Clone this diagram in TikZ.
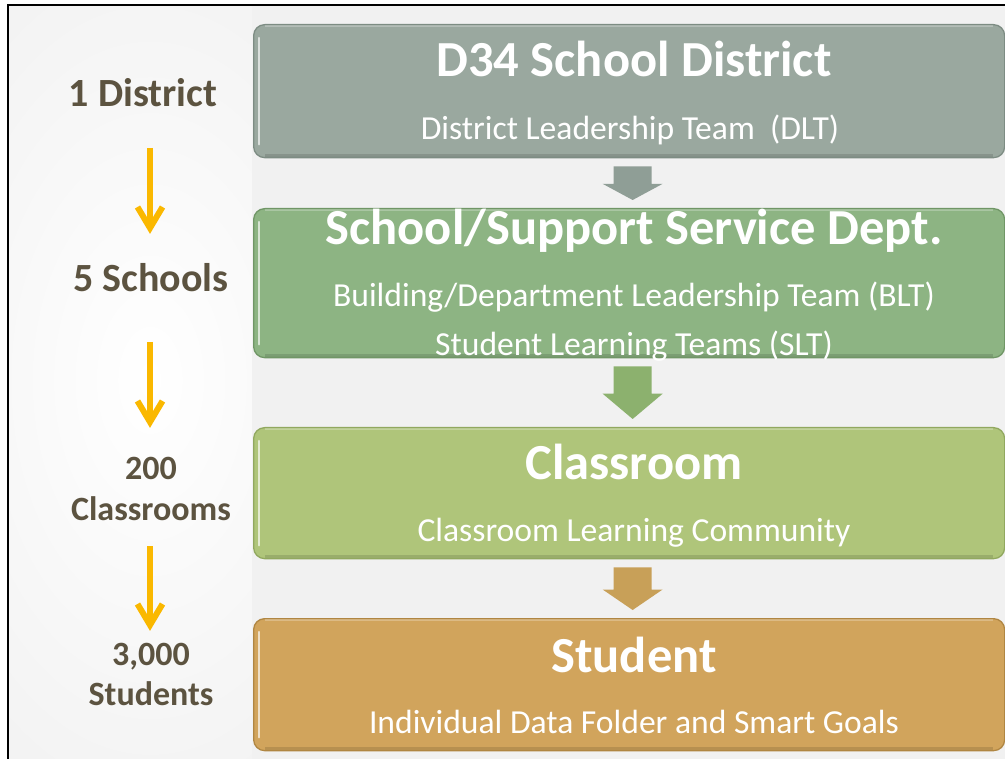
\documentclass[tikz,border=0pt]{standalone}
\usepackage{fontspec}
\setmainfont{Carlito}
\usetikzlibrary{calc}

\definecolor{panelgray}{RGB}{241,241,241}
\definecolor{labeltext}{RGB}{92,83,64}
\definecolor{flowyellow}{RGB}{250,184,0}
\definecolor{distfill}{RGB}{154,168,159}
\definecolor{distedge}{RGB}{125,140,131}
\definecolor{schoolfill}{RGB}{141,180,131}
\definecolor{schooledge}{RGB}{112,150,102}
\definecolor{classfill}{RGB}{175,197,122}
\definecolor{classedge}{RGB}{145,168,95}
\definecolor{studfill}{RGB}{209,164,92}
\definecolor{studedge}{RGB}{176,134,66}
\definecolor{distarrow}{RGB}{143,158,150}
\definecolor{schoolarrow}{RGB}{140,177,110}
\definecolor{classarrow}{RGB}{200,160,88}

\tikzset{
  tier/.style={rounded corners=11pt, line width=1.3pt, minimum width=751pt,
    inner sep=0pt, anchor=north west},
  tiertitle/.style={text=white, anchor=base, inner sep=0pt,
    font=\fontsize{50.5}{60}\selectfont\bfseries},
  tiersub/.style={text=white, anchor=base, inner sep=0pt,
    font=\fontsize{33.6}{40}\selectfont},
  countbig/.style={text=labeltext, anchor=base, inner sep=0pt,
    font=\fontsize{40}{48}\selectfont\bfseries},
  countsmall/.style={text=labeltext, anchor=base, inner sep=0pt,
    font=\fontsize{34}{40}\selectfont\bfseries},
  flowline/.style={draw=flowyellow, line width=6pt},
  flowhead/.style={draw=flowyellow, line width=6pt, line join=miter},
}

% block arrow pointing down between two tiers: #1 upper tier, #2 lower tier, #3 colour, #4 name
\newcommand{\blockarrow}[4]{%
  \coordinate (#4s) at ($(#1.south)+(3.5,8)$);
  \coordinate (#4t) at ($(#2.north)+(3.5,-8)$);
  \coordinate (#4n) at ($(#4s)!0.52!(#4t)$);
  \fill[#3] ($(#4s)+(-19,0)$) -- ($(#4s)+(19,0)$) -- ($(#4n)+(19,0)$)
    -- ($(#4n)+(30,0)$) -- (#4t) -- ($(#4n)+(-30,0)$) -- ($(#4n)+(-19,0)$) -- cycle;
}

% yellow down arrow on the left: #1 top coordinate name, #2 tip coordinate name
\newcommand{\flowarrow}[2]{%
  \draw[flowline] (#1) -- ($(#2)+(0,-6)$);
  \draw[flowhead] ($(#2)+(-12.5,-21)$) -- (#2) -- ($(#2)+(12.5,-21)$);
}

\begin{document}
\begin{tikzpicture}[x=1pt,y=-1pt]
\useasboundingbox (0,0) rectangle (1005,759);
\fill[white] (0,0) rectangle (1005,759);

% soft grey vignette behind the count column
\begin{scope}
  \clip (8,5) rectangle (252,759);
  \shade[inner color=white, outer color=black!11] (-450,-620) rectangle (750,1380);
\end{scope}

% light panel behind the tiers
\fill[panelgray] (252,5) rectangle (1005,759);

% frame
\draw[line width=2.5pt] (8,759) -- (8,5) -- (1005,5);

% tiers
\node[tier, fill=distfill, draw=distedge, minimum height=133pt] (b1) at (253,24) {};
\node[tier, fill=schoolfill, draw=schooledge, minimum height=149pt] (b2) at (253,208) {};
\node[tier, fill=classfill, draw=classedge, minimum height=131pt] (b3) at (253,427) {};
\node[tier, fill=studfill, draw=studedge, minimum height=132pt] (b4) at (253,618) {};

% glossy bevel on each tier
\foreach \b in {b1,b2,b3,b4}{
  \draw[white, opacity=.65, line width=2.5pt, line cap=round]
    ($(\b.north west)+(6,14)$) -- ($(\b.south west)+(6,-14)$);
  \draw[black, opacity=.12, line width=3pt]
    ($(\b.south west)+(12,-2.5)$) -- ($(\b.south east)+(-12,-2.5)$);
  \draw[white, opacity=.25, line width=1.5pt]
    ($(\b.north west)+(12,2)$) -- ($(\b.north east)+(-12,2)$);
}

% arrows between tiers
\blockarrow{b1}{b2}{distarrow}{ar1}
\blockarrow{b2}{b3}{schoolarrow}{ar2}
\blockarrow{b3}{b4}{classarrow}{ar3}

% tier texts
\node[tiertitle] (t1) at (634,77) {D34 School District};
\node[tiersub] (s1) at (630,140) {District Leadership Team\ \ (DLT)};
\node[tiertitle] (t2) at (634,245) {School/Support Service Dept.};
\node[tiersub] (s2a) at (634,307) {Building/Department Leadership Team (BLT)};
\node[tiersub] (s2b) at (634,356) {Student Learning Teams (SLT)};
\node[tiertitle] (t3) at (634,479) {Classroom};
\node[tiersub] (s3) at (634,541) {Classroom Learning Community};
\node[tiertitle] (t4) at (634,672) {Student};
\node[tiersub] (s4) at (634,733) {Individual Data Folder and Smart Goals};

% counts
\node[countbig] (c1) at (143,107) {1 District};
\node[countbig] (c2) at (151,292) {5 Schools};
\node[countsmall] (c3a) at (151,479) {200};
\node[countsmall] (c3b) at (151,520) {Classrooms};
\node[countsmall] (c4a) at (151,665) {3,000};
\node[countsmall] (c4b) at (151,705) {Students};

% flow arrows between the counts
\coordinate (f1a) at (150,148); \coordinate (f1b) at (150,228);
\coordinate (f2a) at (150,342); \coordinate (f2b) at (150,422);
\coordinate (f3a) at (150,546); \coordinate (f3b) at (150,625);
\flowarrow{f1a}{f1b}
\flowarrow{f2a}{f2b}
\flowarrow{f3a}{f3b}
\end{tikzpicture}
\end{document}
